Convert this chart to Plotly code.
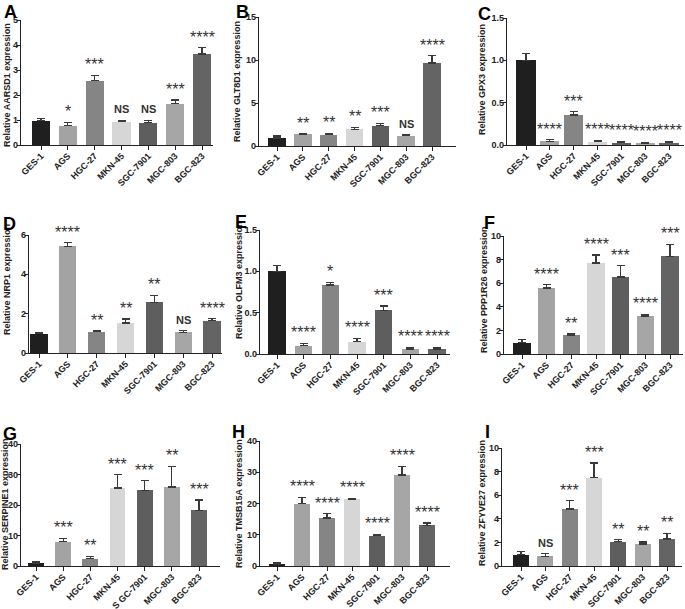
import plotly.graph_objects as go

# ---------------- data ----------------
cell_lines = ["GES-1", "AGS", "HGC-27", "MKN-45", "SGC-7901", "MGC-803", "BGC-823"]
cell_lines_g = ["GES-1", "AGS", "HGC-27", "MKN-45", "S GC-7901", "MGC-803", "BGC-823"]
bar_colors = ["#1f1f1f", "#a3a3a3", "#858585", "#d6d6d6", "#5e5e5e", "#a6a6a6", "#646464"]

panel_letters = ["A", "B", "C", "D", "E", "F", "G", "H", "I"]
genes = ["AARSD1", "GLT8D1", "GPX3", "NRP1", "OLFM3", "PPP1R26", "SERPINE1", "TMSB15A", "ZFYVE27"]

aarsd1_mean = [0.98, 0.77, 2.58, 0.93, 0.89, 1.65, 3.64]
aarsd1_err = [0.07, 0.13, 0.20, 0.06, 0.10, 0.15, 0.25]
aarsd1_sig = ["", "*", "***", "NS", "NS", "***", "****"]

glt8d1_mean = [0.93, 1.38, 1.33, 1.94, 2.36, 1.20, 9.65]
glt8d1_err = [0.22, 0.03, 0.15, 0.22, 0.27, 0.11, 0.85]
glt8d1_sig = ["", "**", "**", "**", "***", "NS", "****"]

gpx3_mean = [1.00, 0.043, 0.353, 0.040, 0.027, 0.020, 0.027]
gpx3_err = [0.08, 0.020, 0.040, 0.015, 0.016, 0.010, 0.016]
gpx3_sig = ["", "****", "***", "****", "****", "****", "****"]

nrp1_mean = [0.98, 5.43, 1.08, 1.53, 2.58, 1.06, 1.65]
nrp1_err = [0.05, 0.18, 0.05, 0.20, 0.35, 0.08, 0.10]
nrp1_sig = ["", "****", "**", "**", "**", "NS", "****"]

olfm3_mean = [1.00, 0.10, 0.835, 0.15, 0.528, 0.06, 0.06]
olfm3_err = [0.07, 0.03, 0.032, 0.04, 0.052, 0.02, 0.02]
olfm3_sig = ["", "****", "*", "****", "***", "****", "****"]

ppp1r26_mean = [0.96, 5.59, 1.60, 7.70, 6.52, 3.23, 8.29]
ppp1r26_err = [0.28, 0.28, 0.11, 0.70, 0.98, 0.14, 1.00]
ppp1r26_sig = ["", "****", "**", "****", "***", "****", "***"]

serpine1_mean = [0.87, 7.96, 2.40, 25.6, 24.85, 25.9, 18.2]
serpine1_err = [0.43, 1.10, 0.76, 4.3, 3.15, 6.8, 3.4]
serpine1_sig = ["", "***", "**", "***", "***", "**", "***"]

tmsb15a_mean = [0.64, 19.9, 15.4, 21.4, 9.68, 29.1, 12.98]
tmsb15a_err = [0.32, 2.1, 1.4, 0.3, 0.5, 2.8, 0.75]
tmsb15a_sig = ["", "****", "****", "****", "****", "****", "****"]

zfyve27_mean = [0.96, 0.82, 4.83, 7.49, 2.06, 1.86, 2.29]
zfyve27_err = [0.25, 0.23, 0.71, 1.24, 0.17, 0.17, 0.48]
zfyve27_sig = ["", "NS", "***", "***", "**", "**", "**"]

y_max = [5, 15, 1.5, 6, 1.5, 10, 40, 40, 10]
y_dtick = [1, 5, 0.5, 2, 0.5, 2, 10, 10, 2]
y_tickformat = ["d", "d", ".1f", "d", ".1f", "d", "d", "d", "d"]

means = [aarsd1_mean, glt8d1_mean, gpx3_mean, nrp1_mean, olfm3_mean,
         ppp1r26_mean, serpine1_mean, tmsb15a_mean, zfyve27_mean]
errs = [aarsd1_err, glt8d1_err, gpx3_err, nrp1_err, olfm3_err,
        ppp1r26_err, serpine1_err, tmsb15a_err, zfyve27_err]
sigs = [aarsd1_sig, glt8d1_sig, gpx3_sig, nrp1_sig, olfm3_sig,
        ppp1r26_sig, serpine1_sig, tmsb15a_sig, zfyve27_sig]
xlabels = [cell_lines] * 6 + [cell_lines_g, cell_lines, cell_lines]

# ---------------- layout geometry (pixels) ----------------
W, H = 685, 609
plot_x = [(21, 213), (259, 456), (507, 684), (29, 222), (260, 450), (504, 683),
          (21, 220), (260, 450), (502, 682)]
plot_y = [(20, 145), (17, 146), (18, 145), (235, 353), (230, 354), (236, 354),
          (444, 566), (441, 566), (448, 566)]
first_last_center = [(41, 202), (277, 432), (526, 669), (39, 212), (277, 437), (522, 670),
                     (36, 199), (277, 427), (521, 667)]
bar_width = [0.68, 0.68, 0.8, 0.6, 0.64, 0.69, 0.58, 0.67, 0.67]
ytitle_pos = [(7, 85), (237, 82), (482, 80), (7, 280), (239, 280), (484, 290),
              (5, 504), (239, 503), (482, 503)]
letter_pos = [(2, 0), (234, 0), (476, 2), (1, 212), (233, 210), (482, 211),
              (1, 422), (230, 420), (483, 420)]

FONT = "Arial, Liberation Sans, Helvetica, sans-serif"
AXIS_COLOR = "#222222"
TEXT_COLOR = "#222222"

fig = go.Figure()
annotations = []

for i in range(9):
    ax = "" if i == 0 else str(i + 1)
    (xl, xr), (yt, yb) = plot_x[i], plot_y[i]
    c0, c6 = first_last_center[i]
    step = (c6 - c0) / 6.0
    xrange = [(xl - c0) / step, (xr - c0) / step]

    fig.add_trace(go.Bar(
        x=list(range(7)), y=means[i],
        marker=dict(color=bar_colors, line=dict(width=0)),
        width=bar_width[i],
        error_y=dict(type="data", array=errs[i], arrayminus=[0] * 7, symmetric=False,
                     color="#3a3a3a", thickness=1.3, width=4),
        xaxis="x" + ax, yaxis="y" + ax, showlegend=False,
        hovertemplate="%{y}<extra></extra>",
    ))

    fig.update_layout(**{
        "xaxis" + ax: dict(
            domain=[xl / W, xr / W], anchor="y" + ax, range=xrange, automargin=False,
            tickvals=list(range(7)), ticktext=xlabels[i], tickangle=-45,
            ticklabelstandoff=-3,
            showline=True, linecolor=AXIS_COLOR, linewidth=1.3,
            ticks="outside", ticklen=4, tickwidth=1.2, tickcolor=AXIS_COLOR,
            showgrid=False, zeroline=False, fixedrange=True,
            tickfont=dict(family=FONT, size=9, color=TEXT_COLOR, weight="bold"),
        ),
        "yaxis" + ax: dict(
            domain=[1 - yb / H, 1 - yt / H], anchor="x" + ax, automargin=False,
            range=[0, y_max[i]], dtick=y_dtick[i], tick0=0, tickformat=y_tickformat[i],
            ticklabelstandoff=-3,
            showline=True, linecolor=AXIS_COLOR, linewidth=1.3,
            ticks="outside", ticklen=3, tickwidth=1.2, tickcolor=AXIS_COLOR,
            showgrid=False, zeroline=False, fixedrange=True,
            tickfont=dict(family=FONT, size=9, color=TEXT_COLOR, weight="bold"),
        ),
    })

    # significance labels above each error bar
    for k in range(7):
        s = sigs[i][k]
        if not s:
            continue
        is_ns = s == "NS"
        annotations.append(dict(
            x=k, y=means[i][k] + errs[i][k], xref="x" + ax, yref="y" + ax,
            text=s, showarrow=False, yanchor="bottom", xanchor="center",
            yshift=3 if is_ns else 0,
            font=dict(family=FONT, size=11 if is_ns else 16, color="#333333",
                      weight="bold" if is_ns else "normal"),
        ))

    # y axis title
    tx, ty = ytitle_pos[i]
    annotations.append(dict(
        x=tx / W, y=1 - ty / H, xref="paper", yref="paper",
        text="Relative " + genes[i] + " expression", textangle=-90,
        showarrow=False, xanchor="center", yanchor="middle",
        font=dict(family=FONT, size=9, color=TEXT_COLOR, weight="bold"),
    ))

    # panel letter
    lx, ly = letter_pos[i]
    annotations.append(dict(
        x=lx / W, y=1 - ly / H, xref="paper", yref="paper",
        text=panel_letters[i], showarrow=False, xanchor="left", yanchor="top",
        font=dict(family=FONT, size=18, color="#000000", weight="bold"),
    ))

fig.update_layout(
    width=W, height=H, margin=dict(l=0, r=0, t=0, b=0),
    paper_bgcolor="white", plot_bgcolor="white",
    annotations=annotations, bargap=0,
)

fig.write_html(
    "out.html",
    config={"displayModeBar": False},
    post_script="document.body.style.margin='0';document.body.style.padding='0';"
                "document.body.style.overflow='hidden';",
)
